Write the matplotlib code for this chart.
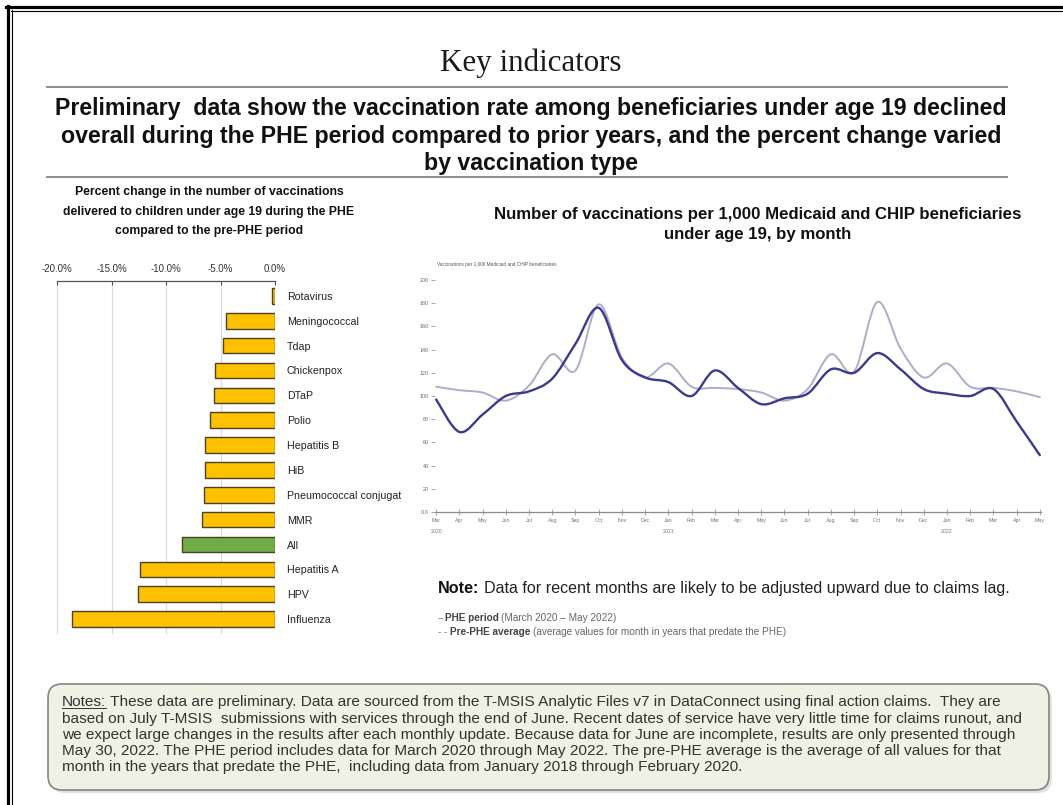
import numpy as np
import matplotlib
matplotlib.use('Agg')
import matplotlib.pyplot as plt
from matplotlib.path import Path
from matplotlib.patches import PathPatch, FancyBboxPatch
from matplotlib.lines import Line2D
from matplotlib.transforms import Bbox, TransformedBbox

# percent change in vaccinations, PHE vs pre-PHE
vaccines = ['Rotavirus', 'Meningococcal', 'Tdap', 'Chickenpox', 'DTaP', 'Polio',
            'Hepatitis B', 'HiB', 'Pneumococcal conjugate', 'MMR', 'All',
            'Hepatitis A', 'HPV', 'Influenza']
pct_change = [-0.3, -4.5, -4.8, -5.5, -5.6, -6.0, -6.4, -6.4, -6.5, -6.7, -8.5,
              -12.4, -12.6, -18.6]
pct_ticks = [-20, -15, -10, -5, 0]
pct_labels = ['-20.0%', '-15.0%', '-10.0%', '-5.0%', '0.0%']

# monthly vaccinations per 1,000 beneficiaries
months = ['Mar\n2020', 'Apr', 'May', 'Jun', 'Jul', 'Aug', 'Sep', 'Oct', 'Nov', 'Dec',
          'Jan\n2021', 'Feb', 'Mar', 'Apr', 'May', 'Jun', 'Jul', 'Aug', 'Sep', 'Oct',
          'Nov', 'Dec', 'Jan\n2022', 'Feb', 'Mar', 'Apr', 'May']
phe_rate = [97, 69, 84, 100, 104, 115, 145, 176, 131, 116, 112, 100, 122, 107,
            93, 98, 102, 123, 120, 137, 123, 106, 102, 100, 106, 78, 49]
pre_phe_avg = [108, 105, 103, 96, 109, 136, 122, 179, 133, 116, 128, 108, 107, 106,
               103, 96, 106, 136, 121, 181, 141, 116, 128, 108, 107, 104, 99]
rate_ticks = [0, 20, 40, 60, 80, 100, 120, 140, 160, 180, 200]
rate_labels = ['0.0', '20', '40', '60', '80', '100', '120', '140', '160', '180', '200']

headline = ['Preliminary  data show the vaccination rate among beneficiaries under age 19 declined',
            'overall during the PHE period compared to prior years, and the percent change varied',
            'by vaccination type']
left_title = ['Percent change in the number of vaccinations',
              'delivered to children under age 19 during the PHE',
              'compared to the pre-PHE period']
right_title = ['Number of vaccinations per 1,000 Medicaid and CHIP beneficiaries',
               'under age 19, by month']
notes_lines = [
    'These data are preliminary. Data are sourced from the T-MSIS Analytic Files v7 in DataConnect using final action claims.  They are',
    'based on July T-MSIS  submissions with services through the end of June. Recent dates of service have very little time for claims runout, and',
    'we expect large changes in the results after each monthly update. Because data for June are incomplete, results are only presented through',
    'May 30, 2022. The PHE period includes data for March 2020 through May 2022. The pre-PHE average is the average of all values for that',
    'month in the years that predate the PHE,  including data from January 2018 through February 2020.',
]

SANS = 'Liberation Sans'
SERIF = 'Liberation Serif'

W, H = 1063, 805
fig = plt.figure(figsize=(W / 100, H / 100), dpi=100)
fig.patch.set_facecolor('white')

# page layer in pixel units (y down)
bg = fig.add_axes([0, 0, 1, 1], zorder=0)
bg.set_xlim(0, W)
bg.set_ylim(H, 0)
bg.axis('off')
renderer = fig.canvas.get_renderer()


def text_w(s, size, weight='normal', family=SANS):
    t = bg.text(0, 0, s, fontsize=size, fontweight=weight, family=family)
    w = t.get_window_extent(renderer).width
    t.remove()
    return w


def fit(s, width, weight='normal', family=SANS):
    return 10 * width / text_w(s, 10, weight, family)


def draw_runs(x, y, parts, size, family=SANS):
    sp = text_w('a a', size, family=family) - text_w('aa', size, family=family)
    boxes = []
    for s, weight, color in parts:
        if s.startswith(' '):
            x += sp
            s = s[1:]
        t = bg.text(x, y, s, fontsize=size, fontweight=weight, color=color,
                    family=family, va='baseline', ha='left')
        bb = t.get_window_extent(renderer)
        boxes.append((x, x + bb.width))
        x += bb.width
    return boxes


def px(x0, y0, x1, y1):
    return [x0 / W, 1 - y1 / H, (x1 - x0) / W, (y1 - y0) / H]


# page frame (left and top)
bg.add_line(Line2D([7.5, 7.5], [6, H], color='black', lw=2.3))
bg.add_line(Line2D([11.5, 11.5], [10.5, H], color='black', lw=0.8))
bg.add_line(Line2D([6, W], [7.5, 7.5], color='black', lw=2.3))
bg.add_line(Line2D([10.5, W], [11.5, 11.5], color='black', lw=0.8))

# title block
bg.text(531, 71, 'Key indicators', family=SERIF, fontsize=fit('Key indicators', 182, family=SERIF),
        ha='center', va='baseline', color='#1a1a1a')
bg.add_line(Line2D([47, 1007], [87, 87], color='#8c8c8c', lw=1.4))
hsize = fit(headline[0], 958, 'bold')
for s, yb in zip(headline, [115, 142.5, 170]):
    bg.text(531, yb, s, fontsize=hsize, fontweight='bold', family=SANS,
            ha='center', va='baseline', color='#111111')
bg.add_line(Line2D([47, 1007], [177, 177], color='#8c8c8c', lw=1.4))

lsize = fit(left_title[0], 268, 'bold')
for s, yb in zip(left_title, [195, 214.5, 234]):
    bg.text(209, yb, s, fontsize=lsize, fontweight='bold', family=SANS,
            ha='center', va='baseline', color='#111111')
rsize = fit(right_title[0], 529, 'bold')
for s, yb in zip(right_title, [219, 239]):
    bg.text(758, yb, s, fontsize=rsize, fontweight='bold', family=SANS,
            ha='center', va='baseline', color='#111111')

# bar chart of percent change
ax1 = fig.add_axes(px(50.5, 281, 275, 634), zorder=2)
ax1.patch.set_alpha(0)
y = np.arange(len(vaccines))
colors = ['#70AD47' if v == 'All' else '#FFC000' for v in vaccines]
ax1.barh(y, pct_change, height=0.63, color=colors, edgecolor='#4a4226', linewidth=1.0, zorder=3)
ax1.set_xlim(-20.6, 0)
ax1.set_ylim(13.6, -0.6)
ax1.xaxis.tick_top()
ax1.set_xticks(pct_ticks)
ax1.set_xticklabels(pct_labels, fontsize=7, color='#333333', family=SANS)
ax1.tick_params(axis='x', direction='in', length=3, width=0.8, color='#555555', pad=5)
ax1.grid(axis='x', color='#d9d9d9', lw=0.8, zorder=0)
for side in ['left', 'right', 'bottom']:
    ax1.spines[side].set_visible(False)
ax1.spines['top'].set_color('#555555')
ax1.spines['top'].set_linewidth(0.9)
ax1.spines['top'].set_bounds(-20, 0)
ax1.yaxis.tick_right()
ax1.set_yticks(y)
ax1.set_yticklabels(vaccines, fontsize=7.7, color='#222222', family=SANS)
ax1.tick_params(axis='y', length=0, pad=8.6)
# long labels run under the line chart's edge
clip = TransformedBbox(Bbox([[0, 0], [401, H]]), bg.transData)
for lbl in ax1.get_yticklabels():
    lbl.set_clip_box(clip)
    lbl.set_clip_on(True)


# smooth monthly curves
def smooth_path(xs, ys):
    pts = np.column_stack([xs, ys]).astype(float)
    ext = np.vstack([pts[0], pts, pts[-1]])
    verts = [pts[0]]
    codes = [Path.MOVETO]
    for i in range(len(pts) - 1):
        p0, p1, p2, p3 = ext[i], ext[i + 1], ext[i + 2], ext[i + 3]
        verts += [p1 + (p2 - p0) / 6, p2 - (p3 - p1) / 6, p2]
        codes += [Path.CURVE4] * 3
    return Path(verts, codes)


ax2 = fig.add_axes(px(435, 280, 1041, 512), zorder=2)
ax2.patch.set_alpha(0)
xm = np.arange(len(months))
ax2.add_patch(PathPatch(smooth_path(xm, pre_phe_avg), fill=False, edgecolor='#aeadc9',
                        lw=1.4, capstyle='round', joinstyle='round'))
ax2.add_patch(PathPatch(smooth_path(xm, phe_rate), fill=False, edgecolor='#3c3a8e',
                        lw=1.7, capstyle='round', joinstyle='round'))
ax2.set_xlim(-0.05, len(months) - 0.95)
ax2.set_ylim(0, 200)
ax2.set_yticks(rate_ticks)
ax2.set_yticklabels(rate_labels, fontsize=3.9, color='#666666', family=SANS)
ax2.tick_params(axis='y', length=3, width=0.6, color='#999999', pad=1.5)
ax2.set_xticks(xm)
ax2.set_xticklabels(months, fontsize=3.8, color='#777777', family=SANS, linespacing=2.4)
ax2.tick_params(axis='x', direction='inout', length=4, width=0.6, color='#999999', pad=2.5)
for side in ['left', 'right', 'top']:
    ax2.spines[side].set_visible(False)
ax2.spines['bottom'].set_color('#8c8c8c')
ax2.spines['bottom'].set_linewidth(0.9)
bg.text(437, 264, 'Vaccinations per 1,000 Medicaid and CHIP beneficiaries', fontsize=3.4,
        color='#555555', family=SANS, va='center', ha='left')

# note and legend text
note_rest = ' Data for recent months are likely to be adjusted upward due to claims lag.'
w_note = text_w('Note:', 10, 'bold') + text_w(note_rest, 10)
nsize = 10 * 574 / w_note
draw_runs(438, 593, [('Note:', 'bold', '#111111'), (note_rest, 'normal', '#222222')], nsize)

leg_size = 7.2
draw_runs(438, 621, [('--', 'normal', '#777777'), ('PHE period', 'bold', '#444444'),
                     (' (March 2020 \u2013 May 2022)', 'normal', '#666666')], leg_size)
draw_runs(438, 635, [('- -', 'normal', '#777777'), (' Pre-PHE average', 'bold', '#444444'),
                     (' (average values for month in years that predate the PHE)', 'normal', '#666666')],
          leg_size)

# notes box
bg.add_patch(FancyBboxPatch((51, 687), 1001, 106, boxstyle='round,pad=0,rounding_size=14',
                            facecolor='#cfcfcf', edgecolor='none', alpha=0.6, zorder=1))
bg.add_patch(FancyBboxPatch((48, 684), 1001, 106, boxstyle='round,pad=0,rounding_size=14',
                            facecolor='#eef1e3', edgecolor='#858585', lw=1.2, zorder=2))
nb_size = 10 * 943 / (text_w('Notes:', 10) + text_w(' ' + notes_lines[0], 10))
for i, (s, yb) in enumerate(zip(notes_lines, [706, 722.5, 739, 755, 771])):
    if i == 0:
        boxes = draw_runs(62, yb, [('Notes:', 'normal', '#333333'), (' ' + s, 'normal', '#333333')], nb_size)
        x0, x1 = boxes[0]
        bg.add_line(Line2D([x0, x1], [yb + 1.5, yb + 1.5], color='#333333', lw=0.7, zorder=3))
    else:
        draw_runs(62, yb, [(s, 'normal', '#333333')], nb_size)

fig.savefig('out.png', dpi=100, facecolor='white')
